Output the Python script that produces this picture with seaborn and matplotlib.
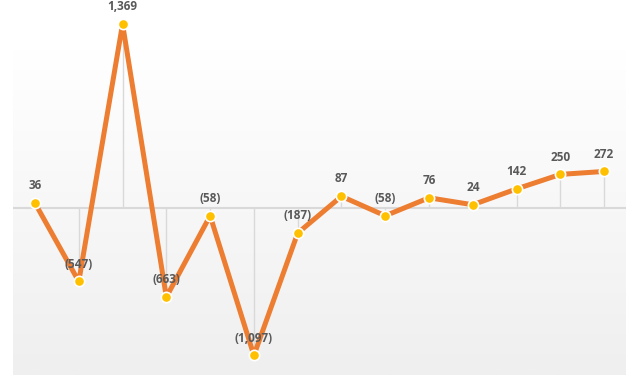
import numpy as np
import pandas as pd
import matplotlib
matplotlib.use("Agg")
import matplotlib.pyplot as plt
import seaborn as sns

# valores de la serie (negativos se muestran entre paréntesis)
periodos = list(range(14))
valores = [36, -547, 1369, -663, -58, -1097, -187, 87, -58, 76, 24, 142, 250, 272]


def etiqueta(v):
    """Formato contable: miles con coma y negativos entre paréntesis."""
    txt = f"{abs(v):,}"
    return f"({txt})" if v < 0 else txt


sns.set_style("white")
plt.rcParams['font.family'] = ['Open Sans', 'DejaVu Sans']

df = pd.DataFrame({"periodo": periodos, "valor": valores})

fig = plt.figure(figsize=(6.4, 3.75), dpi=100)
ax = fig.add_axes([0, 0, 1, 1])
ax.set_xlim(-0.8, 13.82)
ax.set_ylim(-1243, 1548)

# fondo con degradado del área de trazado
grad = np.linspace(0, 1, 256).reshape(-1, 1)
cmap = matplotlib.colors.LinearSegmentedColormap.from_list("fondo", ["#ffffff", "#efefef"])
ax.imshow(grad, extent=(-0.5, 13.5, -1243, 1176), aspect="auto", cmap=cmap,
          origin="upper", zorder=0)

# línea del cero y líneas de caída
ax.hlines(0, -0.5, 13.5, color="#d9d9d9", lw=1.5, zorder=1)
ax.vlines(df["periodo"], 0, df["valor"], color="#d9d9d9", lw=1, zorder=1)

sns.lineplot(data=df, x="periodo", y="valor", ax=ax, color="#ED7D31",
             linewidth=3.6, zorder=2)
sns.scatterplot(data=df, x="periodo", y="valor", ax=ax, color="#FFC000",
                s=55, edgecolor="white", linewidth=1.2, zorder=3)

for x, v in zip(periodos, valores):
    ax.annotate(etiqueta(v), (x, v), xytext=(0, 12.5), textcoords="offset points",
                ha="center", va="center", fontsize=8.5, fontweight="bold",
                color="#595959", zorder=4)

ax.set_axis_off()
fig.savefig("out.png", dpi=100)
